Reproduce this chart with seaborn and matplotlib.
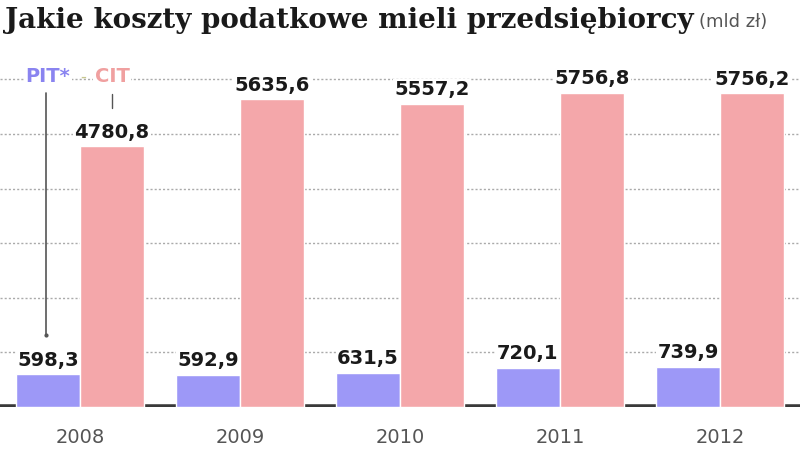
import pandas as pd
import seaborn as sns
import matplotlib.pyplot as plt

years = ['2008', '2009', '2010', '2011', '2012']
pit = [598.3, 592.9, 631.5, 720.1, 739.9]
cit = [4780.8, 5635.6, 5557.2, 5756.8, 5756.2]
series = ['PIT*', 'CIT']
colors = ['#9d98f7', '#f4a7aa']

df = pd.DataFrame({
    'rok': years * 2,
    'podatek': ['PIT*'] * len(years) + ['CIT'] * len(years),
    'wartosc': pit + cit,
})

sns.set_style('white')
fig = plt.figure(figsize=(8, 4.5), dpi=100)
ax = fig.add_axes([0.0, 0.0956, 1.0, 0.7644])

sns.barplot(
    data=df, x='rok', y='wartosc', hue='podatek',
    hue_order=series, palette=colors, width=0.8, gap=0.015,
    saturation=1, legend=False, ax=ax, zorder=3
)

ax.set_xlim(-0.5, 4.5)
ax.set_ylim(0, 6300)
ax.set_yticks([1000, 2000, 3000, 4000, 5000, 6000])
ax.yaxis.grid(True, linestyle=(0, (1.5, 1.5)), color='#aaaaaa', linewidth=1, zorder=0)
ax.set_axisbelow(True)
ax.tick_params(axis='y', left=False, labelleft=False)
ax.tick_params(axis='x', length=0, labelsize=14, labelcolor='#555555', pad=15)
for s in ax.spines.values():
    s.set_visible(False)
ax.axhline(0, color='#3a3a3a', linewidth=4, zorder=1)
ax.set_xlabel('')
ax.set_ylabel('')

for cont in ax.containers:
    ax.bar_label(
        cont, labels=[f'{v.get_height():.1f}'.replace('.', ',') for v in cont],
        padding=3, fontsize=14, fontweight='bold', color='#1a1a1a',
        bbox=dict(facecolor='white', edgecolor='none', pad=1), zorder=4
    )

# legend drawn above the first group
ax.text(-0.2, 6050, 'PIT*', ha='center', va='center', fontsize=14,
        fontweight='bold', color='#8a84f0',
        bbox=dict(facecolor='white', edgecolor='none', pad=1), zorder=5)
ax.text(0.02, 6050, '-', ha='center', va='center', fontsize=12,
        color='#c8c890', zorder=5)
ax.text(0.2, 6050, 'CIT', ha='center', va='center', fontsize=14,
        fontweight='bold', color='#f0a0a0',
        bbox=dict(facecolor='white', edgecolor='none', pad=1), zorder=5)
ax.plot([-0.21, -0.21], [1320, 5750], color='#555555', linewidth=1.2, zorder=5)
ax.plot([-0.21], [1320], marker='o', markersize=2, color='#555555', zorder=5)
ax.plot([0.2, 0.2], [5480, 5730], color='#555555', linewidth=1, zorder=5)

fig.text(0.006, 0.955, 'Jakie koszty podatkowe mieli przedsiębiorcy',
         fontsize=20, fontweight='bold', family='DejaVu Serif',
         color='#1a1a1a', va='center', ha='left')
fig.text(0.874, 0.952, '(mld zł)', fontsize=13, color='#555555',
         va='center', ha='left')

fig.savefig('out.png', dpi=100)
